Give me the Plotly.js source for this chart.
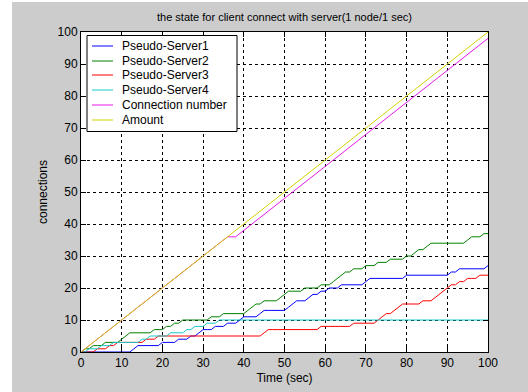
<!DOCTYPE html>
<html><head><meta charset="utf-8">
<script src="https://cdn.plot.ly/plotly-3.0.1.min.js"></script>
<style>html,body{margin:0;padding:0;background:#fff;} #chart{width:528px;height:392px;}</style>
</head><body><div id="chart"></div>
<script>
// ---------- data ----------
const time = [0,1,2,3,4,5,6,7,8,9,10,11,12,13,14,15,16,17,18,19,20,21,22,23,24,25,26,27,28,29,30,31,32,33,34,35,36,37,38,39,40,41,42,43,44,45,46,47,48,49,50,51,52,53,54,55,56,57,58,59,60,61,62,63,64,65,66,67,68,69,70,71,72,73,74,75,76,77,78,79,80,81,82,83,84,85,86,87,88,89,90,91,92,93,94,95,96,97,98,99,100];
const server1 = [0,0,0,0,0,0,0,0,0,0,0,0,0,1,2,2,2,2,2,2,3,3,3,3,4,4,4,5,5,6,7,7,7,8,8,8,9,9,9,10,11,11,11,11,12,13,13,13,13,13,13,14,15,16,16,16,17,18,18,19,19,20,20,20,21,21,21,21,21,21,22,23,23,23,23,23,23,23,23,23,24,24,24,24,24,24,24,24,24,24,24,25,25,26,26,26,26,26,26,26,27];
const server2 = [0,1,1,2,2,2,3,3,3,3,4,5,6,6,6,6,6,6,7,7,7,8,8,9,9,10,10,10,10,10,10,10,11,11,11,12,12,12,12,12,12,13,14,15,15,16,16,16,16,17,18,19,19,19,19,20,20,20,20,21,21,21,22,23,24,25,25,26,26,26,27,27,27,28,28,28,29,29,29,29,30,30,31,32,32,33,34,34,34,34,34,34,34,34,34,35,36,36,36,37,37];
const server3 = [0,0,0,0,1,1,1,2,2,3,3,3,3,3,3,3,4,4,4,5,5,5,5,5,5,5,5,5,5,5,5,5,5,5,5,5,5,5,5,5,5,5,5,5,5,6,7,7,7,7,7,7,7,7,7,7,7,7,7,8,8,8,8,8,8,8,8,9,9,9,9,9,9,10,11,12,12,13,14,15,15,15,15,15,16,16,16,17,18,19,20,21,21,22,22,23,23,23,24,24,24];
const server4 = [0,0,1,1,1,2,2,2,3,3,3,3,3,3,3,4,4,5,5,5,5,5,6,6,6,6,7,7,8,8,8,9,9,9,10,10,10,10,10,10,10,10,10,10,10,10,10,10,10,10,10,10,10,10,10,10,10,10,10,10,10,10,10,10,10,10,10,10,10,10,10,10,10,10,10,10,10,10,10,10,10,10,10,10,10,10,10,10,10,10,10,10,10,10,10,10,10,10,10,10,10];
const connectionNumber = [0,1,2,3,4,5,6,7,8,9,10,11,12,13,14,15,16,17,18,19,20,21,22,23,24,25,26,27,28,29,30,31,32,33,34,35,36,36,36,37,38,39,40,41,42,43,44,45,46,47,48,49,50,51,52,53,54,55,56,57,58,59,60,61,62,63,64,65,66,67,68,69,70,71,72,73,74,75,76,77,78,79,80,81,82,83,84,85,86,87,88,89,90,91,92,93,94,95,96,97,98];
const amount = [0,1,2,3,4,5,6,7,8,9,10,11,12,13,14,15,16,17,18,19,20,21,22,23,24,25,26,27,28,29,30,31,32,33,34,35,36,37,38,39,40,41,42,43,44,45,46,47,48,49,50,51,52,53,54,55,56,57,58,59,60,61,62,63,64,65,66,67,68,69,70,71,72,73,74,75,76,77,78,79,80,81,82,83,84,85,86,87,88,89,90,91,92,93,94,95,96,97,98,99,100];
const seriesNames = ["Pseudo-Server1","Pseudo-Server2","Pseudo-Server3","Pseudo-Server4","Connection number","Amount"];
const xTickVals = [0,10,20,30,40,50,60,70,80,90,100];
const yTickVals = [0,10,20,30,40,50,60,70,80,90,100];
const chartTitle = "the state for client connect with server(1 node/1 sec)";
const xTitle = "Time (sec)";
const yTitle = "connections";

// ---------- styles ----------
const seriesColors = ["#0000ff","#008000","#ff0000","#19c8c8","#e619e6","#d2d200"];
const FONT = "Liberation Sans, Arial, sans-serif";
const M = {l:81, r:40, t:32, b:40};
const FW = 528, FH = 392;
const PW = FW - M.l - M.r, PH = FH - M.t - M.b;
const px2x = p => (p - M.l) / PW;
const px2y = p => (FH - M.b - p) / PH;

const seriesValues = [server1, server2, server3, server4, connectionNumber, amount];
const traces = seriesValues.map((vals, i) => ({
  type: "scatter", mode: "lines", x: time, y: vals, name: seriesNames[i],
  line: {color: seriesColors[i], width: 1}, showlegend: false, hoverinfo: "skip"
}));

// MATLAB-like legend box drawn with shapes + text
const shapes = [
  {type:"rect", xref:"paper", yref:"paper", x0:-1, x1:px2x(12), y0:-1, y1:2, fillcolor:"#ffffff", line:{width:0}, layer:"below"},
  {type:"rect", xref:"paper", yref:"paper", x0:-1, x1:2, y0:px2y(2), y1:2, fillcolor:"#ffffff", line:{width:0}, layer:"below"},
  {type:"rect", xref:"paper", yref:"paper", x0:px2x(87), x1:px2x(237), y0:px2y(131.5), y1:px2y(35.5), fillcolor:"#ffffff", line:{color:"#000000", width:1}, layer:"above"}
];
const annotations = [];
const rowPx = [46, 61, 75, 90, 105, 120];
seriesNames.forEach((nm, i) => {
  const yy = px2y(rowPx[i]);
  shapes.push({type:"line", xref:"paper", yref:"paper", x0:px2x(92), x1:px2x(113), y0:yy, y1:yy, line:{color:seriesColors[i], width:1}, layer:"above"});
  annotations.push({xref:"paper", yref:"paper", x:px2x(120), y:yy, xanchor:"left", yanchor:"middle", text:nm, showarrow:false, font:{family:FONT, size:12, color:"#000"}});
});

const axisCommon = {
  range:[0,100], tickmode:"array", ticks:"inside", ticklen:5, tickcolor:"#000", tickwidth:1,
  showline:true, linecolor:"#000", linewidth:1, mirror:"ticks",
  showgrid:true, gridcolor:"#000", gridwidth:1, griddash:"3px,3px",
  zeroline:false, tickfont:{family:FONT, size:12, color:"#000"}, fixedrange:true
};

const layout = {
  width: FW, height: FH,
  margin: {l:M.l, r:M.r, t:M.t, b:M.b, pad:0},
  paper_bgcolor: "#cccccc", plot_bgcolor: "#ffffff",
  title: {text: chartTitle, font:{family:FONT, size:11, color:"#000"}, x:0.5, xref:"paper", y:(FH-17)/FH, yref:"container", yanchor:"middle"},
  xaxis: Object.assign({}, axisCommon, {tickvals:xTickVals, ticktext:xTickVals.map(String), title:{text:xTitle, font:{family:FONT, size:12, color:"#000"}, standoff:4}}),
  yaxis: Object.assign({}, axisCommon, {tickvals:yTickVals, ticktext:yTickVals.map(String), title:{text:yTitle, font:{family:FONT, size:12, color:"#000"}, standoff:7}}),
  shapes: shapes, annotations: annotations, showlegend:false
};

Plotly.newPlot("chart", traces, layout, {displayModeBar:false, staticPlot:true});
</script>
</body></html>
